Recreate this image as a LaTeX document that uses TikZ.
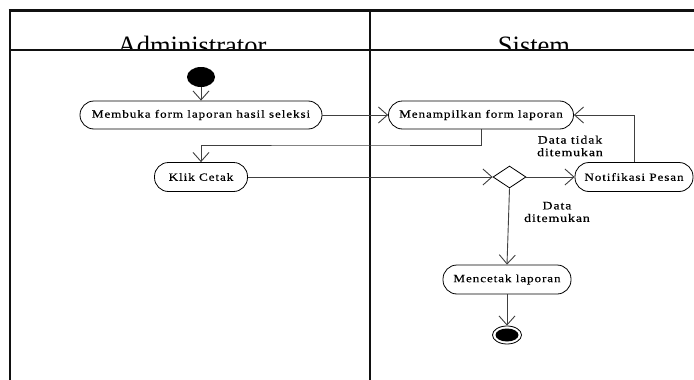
\documentclass[tikz,border=0pt]{standalone}
\usepackage{fontspec}
\setmainfont{Liberation Serif}
\newfontfamily\actfont{Liberation Serif}[FakeStretch=1.2, LetterSpace=8, FakeBold=0.4]
\usetikzlibrary{arrows.meta, positioning, shapes.geometric, calc}
\definecolor{lanegray}{HTML}{111111}
\definecolor{flowgray}{HTML}{404040}

\begin{document}
\begin{tikzpicture}[x=1pt, y=-1pt,
  act/.style={draw, rounded corners=14pt, minimum height=28pt, inner xsep=2pt,
    inner ysep=0pt, font=\actfont\fontsize{11}{13}\selectfont, line width=0.8pt},
  flow/.style={draw=flowgray, line width=0.9pt, -{Straight Barb[length=9pt, width=16pt, line width=0.9pt]}},
  lane/.style={draw=lanegray, line width=2pt},
  guard/.style={font=\actfont\fontsize{11.5}{12.5}\selectfont, align=center}]
  \useasboundingbox (0,0) rectangle (694,380);
  % swimlane frame
  \draw[lane, line width=3.5pt] (8.5,10.5) -- (694,10.5);
  \draw[lane] (9.5,10.5) -- (9.5,380);
  \draw[lane] (370,10.5) -- (370,380);
  \draw[lane] (9.5,49.5) -- (694,49.5);
  \begin{scope}
    \clip (10.5,12) rectangle (694,48.5);
    \node[anchor=base, font=\fontsize{26.5}{30}\selectfont, inner sep=0pt] (adminhead) at (192,54) {Administrator};
    \node[anchor=base, font=\fontsize{26.5}{30}\selectfont, inner sep=0pt] (sistemhead) at (534,54) {Sistem};
  \end{scope}
  % activities
  \node[ellipse, fill=black, minimum width=28pt, minimum height=20pt, inner sep=0pt] (start) at (201,77) {};
  \node[act, minimum width=242pt] (membuka) at (201,115) {Membuka form laporan hasil seleksi};
  \node[act, minimum width=93pt, minimum height=29pt] (klik) at (201,177) {Klik Cetak};
  \node[act, minimum width=185pt] (tampil) at (481,115) {Menampilkan form laporan};
  \node[diamond, draw, line width=0.8pt, minimum width=33pt, minimum height=22pt, inner sep=0pt] (cek) at (509.5,177) {};
  \node[act, minimum width=118pt, minimum height=29pt] (notif) at (634,177) {Notifikasi Pesan};
  \node[act, minimum width=128pt, minimum height=29pt] (cetak) at (507,279.5) {Mencetak laporan};
  \node[ellipse, draw, line width=0.8pt, minimum width=29pt, minimum height=18pt, inner sep=0pt] (finish) at (507,335) {};
  \node[ellipse, fill=black, minimum width=23pt, minimum height=13pt, inner sep=0pt] at (finish) {};
  % flows
  \coordinate (turn) at (340,145);
  \draw[flow] (start) -- (membuka);
  \draw[flow] (membuka) -- (tampil);
  \draw[flow] (tampil.south) |- (turn) -| (klik.north);
  \draw[flow] (klik) -- (cek);
  \draw[flow] (cek) -- (notif);
  \draw[flow] (notif.north) |- (tampil.east);
  \draw[flow] (cek.south) -- (cetak.north);
  \draw[flow] (cetak) -- (finish);
  % guards
  \node[guard] (tidak) at (570,146) {Data tidak\\ditemukan};
  \node[guard] (ada) at (557,212) {Data\\ditemukan};
\end{tikzpicture}
\end{document}
